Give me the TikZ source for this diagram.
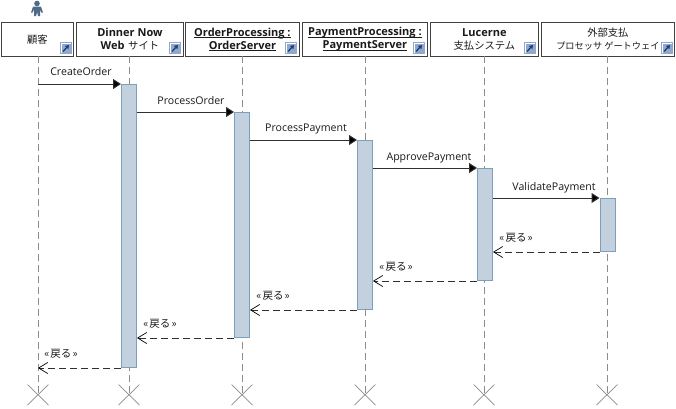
\documentclass[tikz,border=0pt]{standalone}
\usepackage{fontspec}
\setmainfont{Open Sans}
\newfontfamily\jp{Noto Sans CJK JP}
\usetikzlibrary{arrows.meta,calc}
\definecolor{actfill}{HTML}{C3D0DE}
\definecolor{actline}{HTML}{7C9FBB}
\definecolor{lifeline}{HTML}{8C8C8C}
\definecolor{msgline}{HTML}{303030}
\definecolor{txt}{HTML}{1A1A1A}
\definecolor{iconblue}{HTML}{8FA8CC}
\definecolor{icondark}{HTML}{1F3F78}
\definecolor{actorblue}{HTML}{4E6C88}
\newsavebox{\ulbox}
\newcommand{\ulfirst}[1]{\sbox{\ulbox}{#1}\rlap{\rule[-2pt]{\wd\ulbox}{.8pt}}\usebox{\ulbox}}
\newcommand{\boldhead}[1]{{\fontsize{11pt}{13pt}\selectfont\bfseries #1}}
\newcommand{\retword}{«\hspace{1.2pt}戻る\hspace{1.2pt}»}
\tikzset{x=1pt,y=-1pt,
 headbox/.style={draw=black!75,line width=.8pt,fill=white,inner sep=0pt,align=center,anchor=north west,font=\fontsize{10.3pt}{13pt}\selectfont,text=txt,minimum height=34pt},
 activation/.style={draw=actline,line width=1pt,fill=actfill,inner sep=0pt,minimum width=15pt,anchor=north},
 lifelinedash/.style={draw=lifeline,line width=.8pt,dash pattern=on 7pt off 4pt},
 crossmark/.style={draw=lifeline,line width=.7pt},
 callmsg/.style={draw=msgline,line width=1pt,-{Triangle[length=8pt,width=10pt,fill=black]}},
 retmsg/.style={draw=msgline,line width=.9pt,dash pattern=on 7pt off 4pt,-{Straight Barb[length=9pt,width=11pt,black,line width=.7pt]}},
 msglabel/.style={font=\fontsize{10.6pt}{12pt}\selectfont,text=txt,inner sep=0pt,anchor=center},
 retlabel/.style={font=\fontsize{10.5pt}{12pt}\jp,text=txt,inner sep=0pt,anchor=center},
}
\newcommand{\shortcut}[1]{%
 \fill[iconblue] (#1) rectangle ++(12,12);
 \fill[white] ($(#1)+(1,1)$) rectangle ++(10,10);
 \fill[iconblue] ($(#1)+(1.5,1.5)$) rectangle ++(9,9);
 \draw[icondark,line width=1.3pt,-{Triangle[length=3.5pt,width=4.5pt]}] ($(#1)+(3,9.5)$) -- ($(#1)+(9,3)$);
}
\begin{document}
\begin{tikzpicture}
\useasboundingbox (0,0) rectangle (676,408);
\fill[white] (0,0) rectangle (676,408);
% lifeline end coordinates
\coordinate (e1) at (38,395);
\coordinate (e2) at (129,395);
\coordinate (e3) at (242,395);
\coordinate (e4) at (365,395);
\coordinate (e5) at (484,395);
\coordinate (e6) at (607,395);
% heads
\foreach \xa/\ya/\xb in {1/22/73,76/22/183,185/22/299,302/22/427,430/22/538,541/22/674}{
 \fill[black!50] (\xa+1,\ya+1) rectangle (\xb+1,57);
}
\node[headbox,minimum width=72pt,align=none,font=\fontsize{10.3pt}{13pt}\jp] (h1) at (1,22) {顧客};
\node[headbox,minimum width=107pt] (h2) at (76,22) {\boldhead{Dinner Now}\\\boldhead{Web} \hspace{1pt}{\jp サイト}};
\node[headbox,minimum width=114pt] (h3) at (185,22) {\boldhead{\ulfirst{OrderProcessing :}}\\\boldhead{\ulfirst{OrderServer}}};
\node[headbox,minimum width=125pt] (h4) at (302,22) {\boldhead{\ulfirst{PaymentProcessing :}}\\\boldhead{\ulfirst{PaymentServer}}};
\node[headbox,minimum width=108pt] (h5) at (430,22) {\boldhead{Lucerne}\\{\jp 支払システム}};
\node[headbox,minimum width=133pt] (h6) at (541,22) {{\jp 外部支払}\\{\jp\fontsize{9.2pt}{13pt}\selectfont プロセッサ ゲートウェイ}};
% lifelines
\draw[lifelinedash] (38,56) -- (e1);
\draw[lifelinedash] (129,56) -- (e2);
\draw[lifelinedash] (242,56) -- (e3);
\draw[lifelinedash] (365,56) -- (e4);
\draw[lifelinedash] (484,56) -- (e5);
\draw[lifelinedash] (607,56) -- (e6);
% destruction marks
\foreach \n in {1,...,6}{
 \draw[crossmark] ($(e\n)+(-10.5,-10.5)$) -- ($(e\n)+(10.5,10)$);
 \draw[crossmark] ($(e\n)+(-10.5,10)$) -- ($(e\n)+(10.5,-10.5)$);
}
% activations
\node[activation,minimum height=283pt] (a2) at (129,84) {};
\node[activation,minimum height=225pt] (a3) at (242,112) {};
\node[activation,minimum height=169pt] (a4) at (365,140) {};
\node[activation,minimum height=112pt] (a5) at (485,168) {};
\node[activation,minimum height=53pt] (a6) at (607.5,198) {};
% calls
\draw[callmsg] (e1 |- a2.north) -- (a2.north west);
\draw[callmsg] (a2.east |- a3.north) -- (a3.north west);
\draw[callmsg] (a3.east |- a4.north) -- (a4.north west);
\draw[callmsg] (a4.east |- a5.north) -- (a5.north west);
\draw[callmsg] (a5.east |- a6.north) -- (a6.north west);
% returns
\draw[retmsg] (a6.south west) -- (a5.east |- a6.south);
\draw[retmsg] (a5.south west) -- (a4.east |- a5.south);
\draw[retmsg] (a4.south west) -- (a3.east |- a4.south);
\draw[retmsg] (a3.south west) -- (a2.east |- a3.south);
\draw[retmsg] (a2.south west) -- (e1 |- a2.south);
% labels
\node[msglabel] (l1) at (81,72) {CreateOrder};
\node[msglabel] (l2) at (191,101) {ProcessOrder};
\node[msglabel] (l3) at (306,129) {ProcessPayment};
\node[msglabel] (l4) at (429,158) {ApprovePayment};
\node[msglabel] (l5) at (554,188) {ValidatePayment};
\node[retlabel] (r1) at (516,238) {\retword};
\node[retlabel] (r2) at (396,267) {\retword};
\node[retlabel] (r3) at (273,296) {\retword};
\node[retlabel] (r4) at (160,324) {\retword};
\node[retlabel] (r5) at (61,354) {\retword};
% shortcut icons
\shortcut{60,42}
\shortcut{169,42}
\shortcut{285,42}
\shortcut{413,42}
\shortcut{524,42}
\shortcut{661,42}
% actor
\fill[actorblue] (37,3.5) circle (2.8);
\fill[actorblue] (33,6.5) -- (41,6.5) -- (43,12.5) -- (41.5,12.5) -- (40,9.5) -- (40,16) -- (38,16) -- (37.2,12) -- (36,16) -- (34,16) -- (34,9.5) -- (32.5,12.5) -- (31,12.5) -- cycle;
\end{tikzpicture}
\end{document}
